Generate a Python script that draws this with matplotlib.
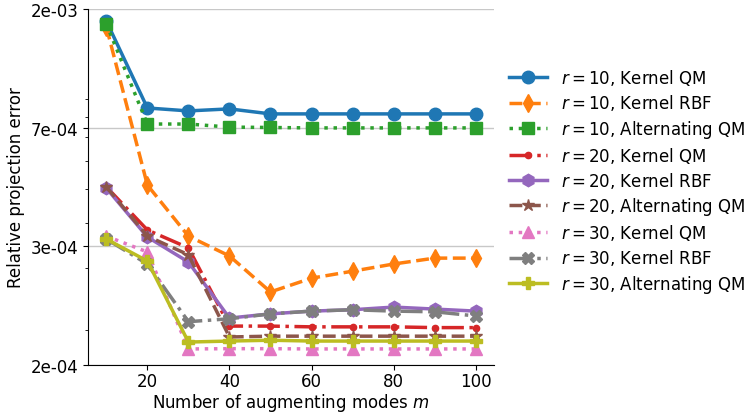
import numpy as np
import matplotlib
matplotlib.use("Agg")
import matplotlib.pyplot as plt
from matplotlib.ticker import NullFormatter

# number of augmenting modes
m = [10, 20, 30, 40, 50, 60, 70, 80, 90, 100]

# relative projection error
r10_kernel_qm = [1.49e-3, 8.47e-4, 8.31e-4, 8.42e-4, 8.15e-4, 8.15e-4, 8.15e-4, 8.15e-4, 8.15e-4, 8.15e-4]
r10_kernel_rbf = [1.435e-3, 5.13e-4, 3.68e-4, 3.235e-4, 2.56e-4, 2.80e-4, 2.93e-4, 3.07e-4, 3.19e-4, 3.19e-4]
r10_alt_qm = [1.463e-3, 7.63e-4, 7.63e-4, 7.48e-4, 7.46e-4, 7.44e-4, 7.44e-4, 7.44e-4, 7.44e-4, 7.44e-4]
r20_kernel_qm = [5.07e-4, 3.83e-4, 3.41e-4, 2.05e-4, 2.05e-4, 2.04e-4, 2.04e-4, 2.04e-4, 2.03e-4, 2.03e-4]
r20_kernel_rbf = [5.03e-4, 3.66e-4, 3.11e-4, 2.16e-4, 2.22e-4, 2.26e-4, 2.28e-4, 2.32e-4, 2.29e-4, 2.26e-4]
r20_alt_qm = [5.07e-4, 3.68e-4, 3.26e-4, 1.91e-4, 1.92e-4, 1.92e-4, 1.92e-4, 1.92e-4, 1.92e-4, 1.92e-4]
r30_kernel_qm = [3.68e-4, 3.32e-4, 1.767e-4, 1.77e-4, 1.77e-4, 1.767e-4, 1.767e-4, 1.767e-4, 1.767e-4, 1.767e-4]
r30_kernel_rbf = [3.61e-4, 3.07e-4, 2.11e-4, 2.15e-4, 2.22e-4, 2.26e-4, 2.28e-4, 2.26e-4, 2.25e-4, 2.19e-4]
r30_alt_qm = [3.61e-4, 3.13e-4, 1.848e-4, 1.86e-4, 1.87e-4, 1.86e-4, 1.86e-4, 1.86e-4, 1.86e-4, 1.86e-4]

series = [r10_kernel_qm, r10_kernel_rbf, r10_alt_qm,
          r20_kernel_qm, r20_kernel_rbf, r20_alt_qm,
          r30_kernel_qm, r30_kernel_rbf, r30_alt_qm]
labels = [r"$r = 10$, Kernel QM", r"$r = 10$, Kernel RBF", r"$r = 10$, Alternating QM",
          r"$r = 20$, Kernel QM", r"$r = 20$, Kernel RBF", r"$r = 20$, Alternating QM",
          r"$r = 30$, Kernel QM", r"$r = 30$, Kernel RBF", r"$r = 30$, Alternating QM"]

ylims = (1.592e-4, 1.613e-3)

markers = ['o', 'd', 's', '.', 'h', '*', '^', 'X', 'P']
styles = ['-', '--', ':', '-.']

plt.rcParams['font.size'] = 12

fig, ax = plt.subplots(figsize=(7.51, 4.14), dpi=100)
fig.subplots_adjust(left=0.117, right=0.658, top=0.976, bottom=0.116)

for i, (vals, lab) in enumerate(zip(series, labels)):
    ax.plot(m, vals, color=f"C{i}", linestyle=styles[i % 4], marker=markers[i],
            lw=2.5, ms=9, label=lab)

ax.set_yscale('log')
ax.set_ylim(*ylims)
yt = np.geomspace(ylims[0], ylims[1], 4)
ax.set_yticks(yt, ["{:.0e}".format(t) for t in yt])
ax.yaxis.set_minor_formatter(NullFormatter())
ax.set_xticks([20, 40, 60, 80, 100])
ax.tick_params(axis='x', pad=1.5)

ax.yaxis.grid(True, which='major', color='#c8c8c8', lw=1)
ax.set_axisbelow(True)
ax.spines['top'].set_visible(False)
ax.spines['right'].set_visible(False)

ax.set_xlabel(r"Number of augmenting modes $m$", labelpad=1)
ax.set_ylabel("Relative projection error")
ax.legend(loc='center left', bbox_to_anchor=(1.0, 0.517), frameon=False,
          handlelength=2.3, labelspacing=0.31)

fig.savefig("out.png", dpi=100)
